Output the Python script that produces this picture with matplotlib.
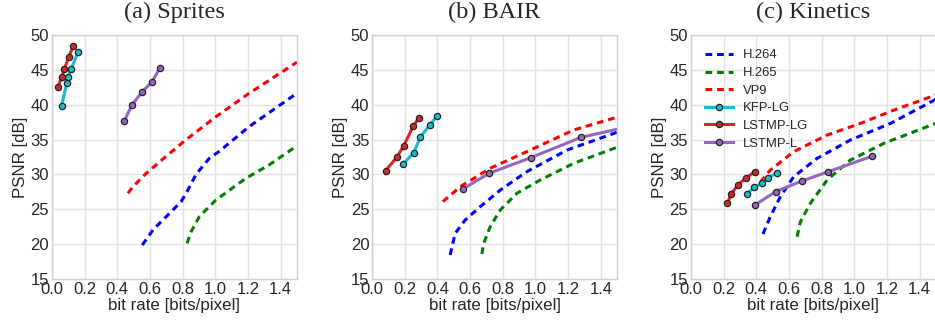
import numpy as np
import matplotlib
matplotlib.use("Agg")
import matplotlib.pyplot as plt

plt.rcParams.update({'font.family': ['Liberation Sans', 'DejaVu Sans'], 'font.size': 10.5,
                     'axes.edgecolor': '#d0d0d0', 'axes.linewidth': 1.0,
                     'grid.color': '#e3e3e3', 'grid.linewidth': 1.0,
                     'text.color': '#262626', 'axes.labelcolor': '#262626',
                     'xtick.color': '#262626', 'ytick.color': '#262626'})

titles = ["(a) Sprites", "(b) BAIR", "(c) Kinetics"]

# Sprites
a_h264_x = [0.553, 0.618, 0.72, 0.791, 0.832, 0.882, 0.963, 1.024, 1.207, 1.5]
a_h264_y = [19.87, 22.03, 24.42, 26.09, 27.76, 30.0, 32.3, 33.3, 36.85, 41.65]
a_h265_x = [0.827, 0.852, 0.902, 1.004, 1.187, 1.329, 1.5]
a_h265_y = [20.11, 21.79, 23.94, 26.33, 29.44, 31.35, 34.1]
a_vp9_x = [0.465, 0.496, 0.577, 0.679, 0.811, 1.004, 1.207, 1.5]
a_vp9_y = [27.29, 28.24, 30.16, 32.2, 34.79, 38.28, 41.63, 46.1]
a_kfp_x = [0.059, 0.09, 0.098, 0.118, 0.159]
a_kfp_y = [39.86, 43.07, 44.02, 45.12, 47.56]
a_lg_x = [0.035, 0.061, 0.075, 0.102, 0.13]
a_lg_y = [42.5, 44.02, 45.08, 46.8, 48.42]
a_l_x = [0.443, 0.488, 0.553, 0.61, 0.663]
a_l_y = [37.66, 39.91, 41.87, 43.21, 45.31]

# BAIR
b_h264_x = [0.478, 0.489, 0.509, 0.57, 0.662, 0.785, 0.948, 1.194, 1.51]
b_h264_y = [18.44, 19.63, 21.55, 23.46, 25.37, 27.76, 30.4, 33.5, 36.13]
b_h265_x = [0.672, 0.683, 0.723, 0.785, 0.887, 1.03, 1.234, 1.51]
b_h265_y = [18.58, 20.1, 22.5, 24.9, 27.3, 29.2, 31.59, 33.98]
b_vp9_x = [0.433, 0.54, 0.723, 0.969, 1.234, 1.51]
b_vp9_y = [26.09, 28.24, 30.88, 33.5, 36.37, 38.28]
b_kfp_x = [0.192, 0.255, 0.296, 0.354, 0.399]
b_kfp_y = [31.54, 33.12, 35.41, 37.09, 38.43]
b_lg_x = [0.082, 0.151, 0.194, 0.251, 0.288]
b_lg_y = [30.54, 32.45, 34.12, 36.9, 38.14]
b_l_x = [0.558, 0.717, 0.971, 1.28, 1.56]
b_l_y = [27.95, 30.16, 32.4, 35.32, 36.8]

# Kinetics
c_h264_x = [0.441, 0.486, 0.547, 0.629, 0.772, 0.977, 1.223, 1.5]
c_h264_y = [21.45, 23.94, 26.8, 29.67, 32.3, 34.94, 37.33, 40.78]
c_h265_x = [0.65, 0.67, 0.731, 0.834, 0.977, 1.182, 1.5]
c_h265_y = [21.07, 23.2, 25.85, 29.2, 32.07, 34.46, 37.33]
c_vp9_x = [0.425, 0.486, 0.629, 0.834, 1.039, 1.244, 1.5]
c_vp9_y = [28.9, 30.63, 33.26, 35.65, 37.33, 39.24, 41.4]
c_kfp_x = [0.342, 0.389, 0.435, 0.469, 0.524]
c_kfp_y = [27.19, 28.15, 28.77, 29.49, 30.16]
c_lg_x = [0.223, 0.246, 0.289, 0.338, 0.393]
c_lg_y = [25.86, 27.19, 28.53, 29.53, 30.39]
c_l_x = [0.395, 0.518, 0.68, 0.837, 1.108]
c_l_y = [25.66, 27.52, 29.06, 30.35, 32.6]

panels = [
    (a_h264_x, a_h264_y, a_h265_x, a_h265_y, a_vp9_x, a_vp9_y, a_kfp_x, a_kfp_y, a_lg_x, a_lg_y, a_l_x, a_l_y),
    (b_h264_x, b_h264_y, b_h265_x, b_h265_y, b_vp9_x, b_vp9_y, b_kfp_x, b_kfp_y, b_lg_x, b_lg_y, b_l_x, b_l_y),
    (c_h264_x, c_h264_y, c_h265_x, c_h265_y, c_vp9_x, c_vp9_y, c_kfp_x, c_kfp_y, c_lg_x, c_lg_y, c_l_x, c_l_y),
]

fig = plt.figure(figsize=(9.35, 3.21), dpi=100)
lefts = [0.0556, 0.398, 0.739]

dash = (0, (2.2, 1.6))
mk = dict(marker='o', markersize=4.5, markeredgecolor='#222222', markeredgewidth=0.9, lw=2.2)

for i, d in enumerate(panels):
    ax = fig.add_axes([lefts[i], 0.131, 0.262, 0.760])
    h264x, h264y, h265x, h265y, vp9x, vp9y, kx, ky, lgx, lgy, lx, ly = d
    ax.plot(h264x, h264y, color='#0000ff', ls=dash, lw=2.2, label='H.264')
    ax.plot(h265x, h265y, color='#008000', ls=dash, lw=2.2, label='H.265')
    ax.plot(vp9x, vp9y, color='#ff0000', ls=dash, lw=2.2, label='VP9')
    ax.plot(kx, ky, color='#17becf', label='KFP-LG', **mk)
    ax.plot(lgx, lgy, color='#d62728', label='LSTMP-LG', **mk)
    ax.plot(lx, ly, color='#9467bd', label='LSTMP-L', **mk)

    ax.set_xlim(0, 1.5)
    ax.set_ylim(15, 50)
    ax.set_xticks(np.arange(0, 1.5, 0.2))
    ax.set_yticks(np.arange(15, 51, 5))
    ax.grid(True)
    ax.set_axisbelow(True)
    ax.tick_params(length=0, pad=2, labelsize=12)
    ax.set_xlabel("bit rate [bits/pixel]", fontsize=12.2, labelpad=1)
    ax.set_ylabel("PSNR [dB]", fontsize=12.2, labelpad=2)
    ax.set_title(titles[i], fontsize=17.5, family=['Liberation Serif', 'DejaVu Serif'], pad=12)
    if i == 2:
        ax.legend(loc='upper left', frameon=False, fontsize=9.4, handlelength=2.1,
                  handletextpad=0.8, borderaxespad=0.7, labelspacing=0.42)

fig.savefig("out.png", dpi=100)
